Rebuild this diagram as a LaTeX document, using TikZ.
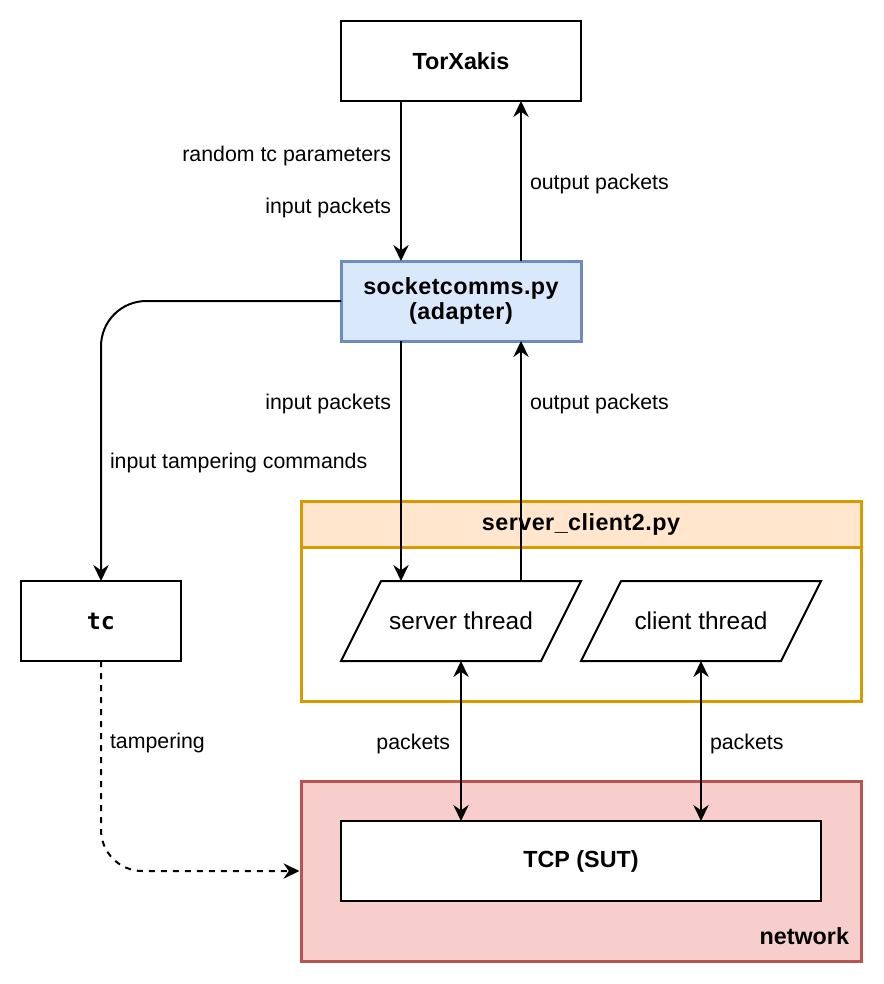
\documentclass[tikz,border=0pt]{standalone}
\usepackage{fontspec}
\setmainfont{Liberation Sans}
\newfontfamily\pyfont[LetterSpace=2]{Liberation Sans}
\newfontfamily\tcfont{DejaVu Sans Mono}
\usetikzlibrary{arrows.meta,calc}
\definecolor{blueFill}{HTML}{DAE8FC}
\definecolor{blueLine}{HTML}{6C8EBF}
\definecolor{orangeFill}{HTML}{FFE6CC}
\definecolor{orangeLine}{HTML}{D79B00}
\definecolor{redFill}{HTML}{F8CECC}
\definecolor{redLine}{HTML}{B85450}
\begin{document}
\begin{tikzpicture}[x=0.75pt,y=-0.75pt,
  every node/.style={font=\fontsize{16}{19}\selectfont},
  boldtext/.style={font=\fontsize{17.5}{18.5}\selectfont\bfseries},
  pytext/.style={font=\fontsize{17.5}{18.5}\pyfont\bfseries},
  box/.style={draw, line width=1.5pt, fill=white, inner sep=0pt, outer sep=0pt,
    minimum width=180pt, minimum height=60pt},
  thread/.style={inner sep=0pt, outer sep=0pt, minimum width=150pt, minimum height=60pt,
    font=\fontsize{18.3}{20}\selectfont},
  lbl/.style={inner sep=0pt, outer sep=0pt},
  arr/.style={-{Stealth[length=12pt,width=11.5pt,inset=4pt]}, line width=1.5pt},
  arrb/.style={{Stealth[length=12pt,width=11.5pt,inset=4pt]}-{Stealth[length=12pt,width=11.5pt,inset=4pt]}, line width=1.5pt},
  dashline/.style={dash pattern=on 4.5pt off 4.5pt}
]
\useasboundingbox (0,0) rectangle (884,984);

% containers
\node[draw=redLine, fill=redFill, line width=2.25pt, minimum width=420pt, minimum height=135pt, inner sep=0pt] (net) at (581,871) {};
\node[lbl, anchor=base east, boldtext] (netl) at (849,944) {network};
\node[draw=orangeLine, fill=white, line width=2.25pt, minimum width=420pt, minimum height=150pt, inner sep=0pt] (scc) at (581,601) {};
\node[draw=orangeLine, fill=orangeFill, line width=2.25pt, minimum width=420pt, minimum height=34.5pt, inner sep=0pt, pytext] (sch) at (581,524) {server\_client2.py};

% boxes
\node[box, boldtext] (tx) at (461,61) {TorXakis};
\node[box, draw=blueLine, fill=blueFill, line width=2.25pt, align=center, pytext] (sc) at (461,301) {socketcomms.py\\(adapter)};
\node[box, minimum width=120pt, font=\fontsize{17.5}{18.5}\tcfont\bfseries] (tc) at (101,621) {tc};
\node[box, minimum width=360pt, boldtext] (tcp) at (581,861) {TCP (SUT)};

% threads (parallelograms)
\node[thread] (st) at (461,621) {server thread};
\node[thread] (ct) at (701,621) {client thread};
\foreach \n in {st,ct}{
  \draw[line width=1.5pt, line join=miter]
    ($(\n.south west)+(-20,0)$) -- ($(\n.north west)+(20,0)$) --
    ($(\n.north east)+(20,0)$) -- ($(\n.south east)+(-20,0)$) -- cycle;
}

% connectors
\draw[arr] ($(tx.south)+(-60,0)$) -- ($(sc.north)+(-60,0)$);
\draw[arr] ($(sc.north)+(60,0)$) -- ($(tx.south)+(60,0)$);
\draw[arr] ($(sc.south)+(-60,0)$) -- ($(st.center)+(-60,-40)$);
\draw[arr] ($(st.center)+(60,-40)$) -- ($(sc.south)+(60,0)$);
\draw[arr, rounded corners=34pt] (sc.west) -| (tc.north);
\draw[arr, dashline, rounded corners=31pt] (tc.south) |- (net.west);
\draw[arrb] ($(st.center)+(0,40)$) -- ($(tcp.north)+(-120,0)$);
\draw[arrb] ($(ct.center)+(0,40)$) -- ($(tcp.north)+(120,0)$);

% labels
\node[lbl, anchor=base east] (l1) at (391,162) {random tc parameters};
\node[lbl, anchor=base east] (l2) at (391,214) {input packets};
\node[lbl, anchor=base west] (l3) at (530,190) {output packets};
\node[lbl, anchor=base east] (l4) at (391,409) {input packets};
\node[lbl, anchor=base west] (l5) at (530,409) {output packets};
\node[lbl, anchor=base west] (l6) at (110,468) {input tampering commands};
\node[lbl, anchor=base west] (l7) at (110,748) {tampering};
\node[lbl, anchor=base east] (l8) at (450,749) {packets};
\node[lbl, anchor=base west] (l9) at (710,749) {packets};
\end{tikzpicture}
\end{document}
